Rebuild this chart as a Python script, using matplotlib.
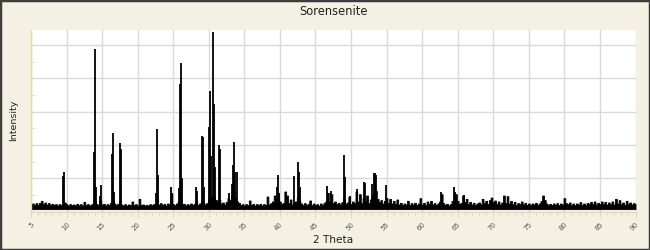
import numpy as np
import matplotlib
matplotlib.use("Agg")
import matplotlib.pyplot as plt
from matplotlib.patches import Rectangle

# upper edge of the noisy background, one reading every 0.25 deg from 5 to 90
two_theta = np.arange(0, 341) * 0.25 + 5
background = [
    210, 240, 200, 250, 210, 260, 320, 230, 270, 210, 250, 200, 230, 190, 220, 180, 220, 190, 230, 270,
    220, 180, 220, 190, 210, 180, 230, 190, 220, 180, 290, 200, 220, 180, 210, 240, 300, 220, 200, 330,
    210, 230, 180, 220, 200, 260, 380, 240, 200, 230, 310, 210, 180, 220, 180, 210, 190, 300, 200, 220,
    180, 380, 200, 210, 180, 200, 180, 220, 190, 220, 200, 380, 210, 250, 190, 230, 180, 240, 200, 540,
    220, 190, 240, 300, 360, 220, 230, 180, 220, 190, 240, 200, 230, 300, 200, 240, 300, 260, 210, 250,
    380, 420, 480, 450, 350, 300, 350, 240, 270, 210, 290, 400, 340, 500, 600, 420, 300, 260, 200, 220,
    180, 220, 190, 330, 200, 230, 180, 220, 190, 230, 180, 220, 200, 450, 210, 250, 300, 480, 380, 560,
    300, 220, 260, 600, 480, 250, 360, 210, 270, 300, 420, 320, 240, 200, 250, 190, 230, 330, 200, 240,
    190, 220, 180, 240, 200, 260, 300, 560, 280, 520, 250, 300, 220, 260, 210, 280, 380, 230, 270, 440,
    230, 300, 260, 600, 300, 520, 260, 400, 300, 480, 250, 360, 480, 560, 620, 380, 280, 340, 240, 320,
    400, 260, 380, 240, 320, 230, 360, 210, 260, 200, 240, 210, 320, 190, 250, 210, 260, 190, 240, 400,
    210, 260, 190, 300, 230, 320, 210, 250, 190, 240, 300, 520, 250, 200, 230, 180, 220, 320, 300, 520,
    320, 220, 260, 480, 280, 380, 230, 290, 210, 260, 190, 240, 270, 220, 380, 250, 320, 230, 340, 420,
    280, 330, 230, 300, 210, 270, 480, 250, 460, 240, 320, 220, 290, 200, 250, 230, 300, 210, 260, 200,
    240, 190, 240, 210, 260, 200, 240, 310, 480, 340, 240, 190, 230, 190, 240, 200, 250, 190, 240, 210,
    400, 250, 220, 270, 200, 240, 190, 240, 210, 280, 200, 240, 190, 260, 220, 290, 230, 300, 210, 260,
    220, 300, 230, 290, 210, 270, 220, 300, 210, 380, 240, 340, 220, 270, 200, 320, 220, 270, 210, 250,
    230,
]
floor_level = 70

# sharp reflections
peak_pos = [9.55, 9.68, 13.9, 14.03, 14.17, 14.74, 14.88, 16.43, 16.57, 16.7,
            17.55, 17.69, 22.62, 22.75, 22.88, 24.67, 24.8, 25.84, 25.98, 26.12, 26.26,
            28.2, 28.33, 29.07, 29.2, 29.33, 30.05, 30.19, 30.33, 30.61, 30.75, 30.89,
            31.41, 31.55, 32.9, 33.28, 33.42, 33.56, 33.7, 33.98,
            39.6, 39.75, 39.88, 42.0, 42.55, 42.68, 42.8, 46.6, 47.15,
            48.98, 49.12, 49.83, 50.8, 51.78, 51.92, 52.9, 53.25, 53.4, 53.55,
            54.85, 62.7, 64.45, 64.58, 65.85]
peak_int = [1065, 1175, 1775, 4865, 725, 480, 785, 1725, 2345, 575,
            2045, 1875, 545, 2475, 1095, 745, 560, 700, 3825, 4445, 1000,
            745, 625, 2265, 2235, 750, 2545, 3625, 1675, 5395, 3225, 1345,
            1985, 1875, 565, 825, 1395, 2095, 1200, 1195,
            750, 1095, 500, 1075, 1495, 1175, 750, 755, 625,
            1695, 1045, 475, 675, 895, 845, 815, 1145, 1165, 1110,
            800, 580, 745, 580, 510]

cream = '#f4f1e4'
tan = '#e3dcae'

fig = plt.figure(figsize=(6.5, 2.5), dpi=100, facecolor=cream)
ax = fig.add_axes([0.0477, 0.154, 0.9300, 0.726])
ax.set_facecolor('white')

ax.fill_between(two_theta, floor_level, background, step='mid', color='black', lw=0.6)
ax.vlines(peak_pos, 150, peak_int, color='black', lw=1.3)

ax.set_xlim(5, 90)
ax.set_ylim(0, 5450)
ax.set_xticks(np.arange(5, 91, 5))
ax.set_xticks(np.arange(5, 91, 1), minor=True)
ax.set_yticks(np.arange(0, 5001, 1000))
ax.set_yticks(np.arange(500, 5450, 500), minor=True)
ax.set_yticklabels([])
ax.set_xticklabels([str(v) for v in range(5, 91, 5)], rotation=45, ha='right',
                   rotation_mode='anchor', fontsize=5, color='#555555')
ax.grid(True, which='major', color='#dadada', lw=1.0)
ax.set_axisbelow(True)

for s in ['top', 'right']:
    ax.spines[s].set_visible(False)
for s in ['left', 'bottom']:
    ax.spines[s].set_color(tan)
    ax.spines[s].set_linewidth(1.0)
ax.tick_params(axis='x', which='both', color=tan, direction='out', pad=3)
ax.tick_params(axis='x', which='major', length=4)
ax.tick_params(axis='x', which='minor', length=3)
ax.tick_params(axis='y', which='both', color=tan, direction='in', length=3)

ax.set_title('Sorensenite', fontsize=8.3, color='#222222', pad=11)
ax.set_xlabel('2 Theta', fontsize=7.6, color='#222222', labelpad=2)
ax.set_ylabel('Intensity', fontsize=6.8, color='#222222', labelpad=6)

fig.patches.append(Rectangle((0, 0), 1, 1, transform=fig.transFigure, fill=False,
                             edgecolor='#3d3d3d', lw=2.5))

fig.savefig('out.png', dpi=100, facecolor=cream)
